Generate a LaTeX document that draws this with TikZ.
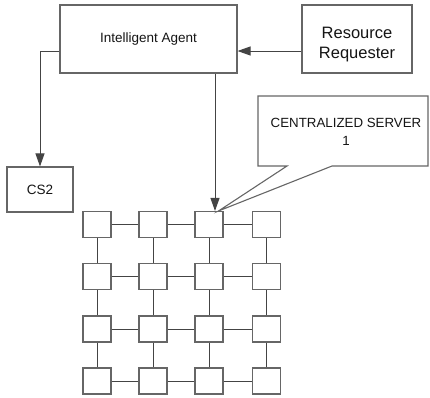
\documentclass[tikz,border=0pt]{standalone}
\usepackage{fontspec}
\setmainfont{Liberation Sans}
\usetikzlibrary{arrows.meta}
\definecolor{boxgray}{HTML}{666666}
\definecolor{linegray}{HTML}{444444}
\definecolor{inkgray}{HTML}{151515}
\begin{document}
\begin{tikzpicture}[x=1pt,y=-1pt,
  box/.style={draw=boxgray, line width=1.1pt, fill=white, inner sep=0pt, text=inkgray},
  cell/.style={box, minimum width=28pt, minimum height=26pt},
  link/.style={draw=linegray, line width=1pt},
  arr/.style={link, -{Triangle[length=13pt,width=9pt]}},
  ]
\useasboundingbox (0,0) rectangle (430,397);

% top row
\node[box, minimum width=177pt, minimum height=68pt] (ia) at (148.5,39)
  {\fontsize{13.5}{16}\selectfont Intelligent Agent};
\node[box, minimum width=110pt, minimum height=68pt,
  label={[yshift=-6pt, align=center, text=inkgray, font=\fontsize{16.5}{20}\selectfont]center:Resource\\Requester}]
  (rr) at (357,39) {};

% second server
\node[box, minimum width=66pt, minimum height=45pt] (cs2) at (40,189.5)
  {\fontsize{13.5}{16}\selectfont CS2};

% 4x4 mesh of resources
\foreach \r/\y in {0/224.5,1/276.5,2/329,3/381}
  \foreach \c/\x in {0/97,1/153,2/209,3/266.5}
    \node[cell] (g\r\c) at (\x,\y) {};
\foreach \r in {0,...,3}
  \foreach \c/\n in {0/1,1/2,2/3} {
    \draw[link] (g\r\c.east) -- (g\r\n.west);
    \draw[link] (g\c\r.south) -- (g\n\r.north);
  }

% callout of the centralized server
\draw[box] (258,96) -- (428,96) -- (428,166) -- (332,166)
  -- ([xshift=-5pt]g02.north east) -- (287,166) -- (258,166) -- cycle;
\node[align=center, text=inkgray, font=\fontsize{13.3}{18}\selectfont] (cs1) at (346,132)
  {CENTRALIZED SERVER\\1};

% connectors
\draw[arr] ([yshift=-12pt]rr.west) -- ([yshift=-12pt]ia.east);
\draw[arr] ([yshift=-12pt]ia.west) -| (cs2.north);
\draw[arr] ([xshift=6pt]g02.north |- ia.south) -- ([xshift=6pt]g02.north);
\end{tikzpicture}
\end{document}
